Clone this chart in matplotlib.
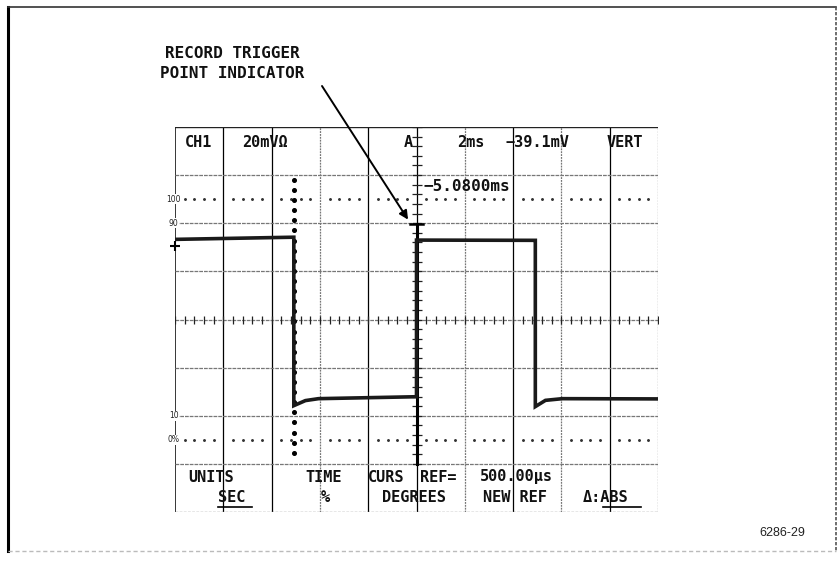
import numpy as np
import matplotlib
matplotlib.use('Agg')
import matplotlib.pyplot as plt
from matplotlib.lines import Line2D

# waveform (time in ms, level in % of 0..100 markers)
time_ms = [-10.0, -5.1, -5.08, -5.08, -4.6, -4.06, -0.02, 0.0, 0.0, 4.9, 4.92, 4.92, 5.34, 6.04, 10.0]
level_pct = [83.3, 84.2, 84.2, 14.2, 16.3, 17.1, 17.9, 17.9, 83.0, 82.9, 82.9, 13.8, 16.4, 17.1, 17.0]

ref_cursor_ms = 0.0
delta_cursor_ms = -5.08
trigger_level = 89.6

header_texts = ['CH1', '20mV\u03a9', 'A', '2ms', '\u221239.1mV', 'VERT']
header_x = [185, 242, 404, 457, 505, 607]
footer_top = ['UNITS', 'TIME', 'CURS', 'REF=', '500.00\u00b5s']
footer_top_x = [188, 305, 368, 420, 480]
footer_bot = ['SEC', '%', 'DEGREES', 'NEW REF', '\u0394:ABS']
footer_bot_x = [218, 321, 382, 483, 583]
scale_labels = ['100', '90', '10', '0%']
scale_vals = [100, 90, 10, 0]

W, H = 838, 563
def fx(x):
    return x / W
def fy(y):
    return 1 - y / H

fig = plt.figure(figsize=(W / 100, H / 100), dpi=100)
fig.patch.set_facecolor('white')

# outer frame of the scanned figure
fig.add_artist(Line2D([fx(8), fx(8)], [fy(7), fy(551)], color='black', lw=2.2))
fig.add_artist(Line2D([fx(8), fx(836)], [fy(7), fy(7)], color='#333333', lw=1.2))
fig.add_artist(Line2D([fx(836), fx(836)], [fy(7), fy(551)], color='#555555', lw=1.2, ls=(0, (2, 1))))
fig.add_artist(Line2D([fx(8), fx(836)], [fy(551), fy(551)], color='#bbbbbb', lw=1.0, ls=(0, (3, 2))))

ax = fig.add_axes([fx(175), fy(512), fx(658) - fx(175), fy(127) - fy(512)])
ax.set_xlim(-10, 10)
ax.set_ylim(-30, 130)
ax.axis('off')

mono = dict(family='DejaVu Sans Mono', weight='bold', color='#111111')

# graticule
gray_cols = [-4, 2, 6, 10]
for x in range(-8, 11, 2):
    if x in gray_cols:
        ax.plot([x, x], [-30, 130], color='#777777', lw=0.9, ls=(0, (1.5, 0.8)), zorder=1)
    else:
        ax.plot([x, x], [-30, 130], color='black', lw=0.9, zorder=1)
ax.plot([-10, -10], [-30, 130], color='black', lw=1.1, zorder=1)
for y in [110, 90, 70, 50, 30, 10, -10]:
    ax.plot([-10, 10], [y, y], color='#777777', lw=0.9, ls=(0, (3, 0.8)), zorder=1)
ax.plot([-10, 10], [130, 130], color='#222222', lw=1.0, zorder=1)
ax.plot([-10, 10], [-30, -30], color='#888888', lw=1.0, ls=(0, (2, 1)), zorder=1)

# centre axes with minor ticks
ticks_x = np.arange(-10, 10.01, 0.4)
ax.plot(ticks_x, np.full(len(ticks_x), 50), ls='none', marker='|', ms=6, mew=0.9, color='#222222', zorder=2)
ticks_y = np.arange(-10, 130.1, 4)
ax.plot(np.zeros(len(ticks_y)), ticks_y, ls='none', marker='_', ms=7, mew=0.9, color='#222222', zorder=2)

# 0% and 100% dotted reference rows
for y in [100, 0]:
    dots = [x for x in ticks_x if abs(x / 2 - round(x / 2)) > 0.05]
    ax.plot(dots, np.full(len(dots), y), ls='none', marker='.', ms=2.2, color='#333333', zorder=2)

for lab, v in zip(scale_labels, scale_vals):
    ax.text(-10.05, v, lab, fontsize=5.5, family='DejaVu Sans', ha='center', va='center',
            color='#222222', zorder=3, bbox=dict(fc='white', ec='none', pad=0.2))

# cursors
ax.plot([ref_cursor_ms, ref_cursor_ms], [-10, trigger_level], color='black', lw=2.2, zorder=4)
ax.plot([-0.25, 0.25], [trigger_level, trigger_level], color='black', lw=1.8, zorder=4)
cur_y = np.arange(108, -9, -4.2)
ax.plot(np.full(len(cur_y), delta_cursor_ms), cur_y, ls='none', marker='o', ms=2.6, color='black', zorder=4)

# trace
ax.plot(time_ms, level_pct, color='#1a1a1a', lw=2.6, solid_joinstyle='miter', zorder=5)
ax.plot([-10], [80.4], marker='+', ms=7, mew=1.5, color='black', zorder=6, clip_on=False)

# readouts
for t, x in zip(header_texts, header_x):
    fig.text(fx(x), fy(142), t, fontsize=11, ha='left', va='center', **mono)
fig.text(fx(423), fy(186), '\u22125.0800ms', fontsize=11.5, ha='left', va='center', **mono)
for t, x in zip(footer_top, footer_top_x):
    fig.text(fx(x), fy(477), t, fontsize=11, ha='left', va='center', **mono)
for t, x in zip(footer_bot, footer_bot_x):
    fig.text(fx(x), fy(498), t, fontsize=11, ha='left', va='center', **mono)
fig.add_artist(Line2D([fx(218), fx(252)], [fy(507), fy(507)], color='black', lw=1.2))
fig.add_artist(Line2D([fx(603), fx(641)], [fy(507), fy(507)], color='black', lw=1.2))

# annotation
fig.text(fx(232), fy(53), 'RECORD TRIGGER', fontsize=11.5, ha='center', va='center', **mono)
fig.text(fx(232), fy(73), 'POINT INDICATOR', fontsize=11.5, ha='center', va='center', **mono)
ax.annotate('', xy=(-0.35, 91.5), xycoords='data',
            xytext=(fx(322), fy(86)), textcoords='figure fraction',
            arrowprops=dict(arrowstyle='-|>', lw=1.4, color='black', mutation_scale=13, shrinkA=0, shrinkB=0),
            zorder=7)

fig.text(fx(805), fy(533), '6286-29', fontsize=9, family='Liberation Sans', ha='right', va='center', color='#222222')

fig.savefig('out.png', dpi=100)
